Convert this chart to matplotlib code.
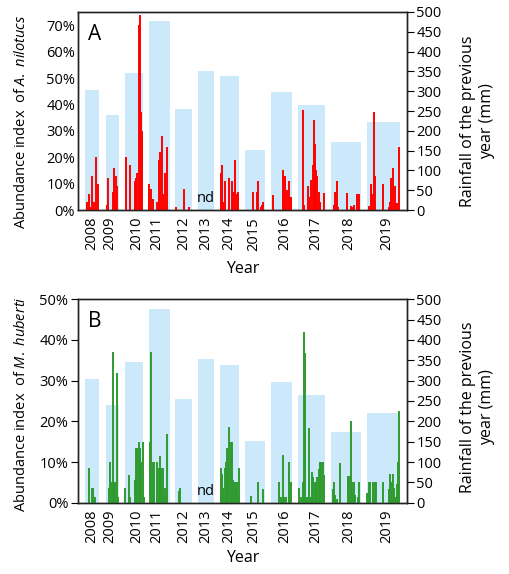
import matplotlib
matplotlib.use('Agg')
import matplotlib.pyplot as plt
from matplotlib.ticker import FuncFormatter, MultipleLocator

plt.rcParams['font.family'] = ['Open Sans', 'DejaVu Sans']
plt.rcParams['mathtext.fontset'] = 'custom'
plt.rcParams['mathtext.rm'] = 'Open Sans'
plt.rcParams['mathtext.it'] = 'Open Sans:italic'

# sampling years and rainfall of the previous year (mm)
years = ['2008', '2009', '2010', '2011', '2012', '2013', '2014', '2015', '2016', '2017', '2018', '2019']
rainfall = [303, 240, 345, 477, 254, 352, 338, 151, 297, 264, 173, 221]
# span of each sampling year on the sampling axis (start, end)
year_start = [7, 27.7, 47.3, 71, 97.5, 120, 142.3, 167.3, 193, 220.3, 253.3, 289.3]
year_end = [21, 41, 65.3, 91.7, 114, 136, 161.3, 187, 214, 247, 283, 322]

# A. nilotucs abundance index (%) at each sample position
a_pos = [9.3, 10.7, 12, 14, 16, 18, 20,
         28.7, 30, 34.7, 36, 37.3, 38, 39.3,
         48, 48.3, 51.7, 56.7, 58, 59.3, 60.7, 61.7, 62.7, 63.3, 64,
         71.3, 72.7, 75.3, 78.7, 81.3, 82, 84, 85.3, 86.7, 88, 89.3,
         98, 106, 111.3,
         142.7, 144, 145.3, 147.3, 150.7, 154, 155.3, 156.7, 158.7, 160,
         175.3, 178.7, 180, 183, 184, 185.3,
         194.7, 204.7, 206, 207.3, 208.7, 210.7, 212, 213.3,
         224.7, 226, 230, 231.3, 233.3, 234.7, 236, 237, 238, 239.3, 240.7, 242, 246,
         256, 257.3, 258.7, 260, 268.7, 272.7, 274, 276, 279.3, 280.7,
         290.7, 292.7, 294, 296, 297.3, 304.7, 310.7, 312, 313.3, 315.3, 316.7, 318, 319.3, 321.3]
a_val = [3, 6, 1, 13, 3, 20, 10,
         2, 12, 7, 16, 3, 13, 9,
         1, 20, 17, 11, 12, 14, 70, 74, 37, 5, 30,
         10, 8, 4, 3, 19, 22, 28, 6, 14, 1, 24,
         1, 8, 1,
         14, 17, 3, 11, 12, 11, 7, 19, 6, 7,
         7, 7, 11, 1, 2, 3,
         5.8, 15, 13, 13, 7.5, 11, 4.5, 5,
         38, 2, 9, 5, 11.5, 17, 34, 25, 15, 13, 7, 3, 6.5,
         2, 7, 11, 1, 6.5, 1.5, 1, 2, 6, 6,
         1.5, 10, 6, 37, 13, 10, 1, 3, 12, 16, 9, 2.5, 2.5, 24]

# M. huberti abundance index (%)
b_pos = [10.7, 14, 15.3, 17.3,
         30.7, 32, 34, 34.7, 36, 37.3, 39.3, 40,
         47.3, 50.7, 52, 56.7, 58, 59.3, 60.7, 62, 63.3, 64.7, 66,
         72, 73.3, 74.7, 76, 79.3, 80.7, 82, 83.3, 84.7, 86, 87.3, 89.3,
         100.7, 102,
         142.7, 144, 145.3, 146.7, 148, 148.7, 150, 151.3, 152.7, 154, 155.3, 156.7, 158, 159.3, 160.7,
         173.3, 180, 185.3,
         201.3, 202.7, 205.3, 206.7, 208, 210.7, 211.3, 212.7,
         221.3, 222.7, 224.7, 226, 227.3, 228.7, 231.3, 232.7, 234, 235.3, 236.7, 238, 239.3, 240.7, 242, 243.3, 244.7, 246,
         254.7, 256, 257.3, 259.3, 262, 270, 271.3, 272.7, 274, 276, 277.3, 280, 281.3,
         289.3, 290.7, 292, 295.3, 296.7, 298, 305.3, 310.7, 312, 313.3, 314.7, 316, 317.3, 318.7, 320, 321.3]
b_val = [8.5, 3.5, 3.5, 1.5,
         3.5, 10, 5, 37, 5, 5, 32, 1.5,
         3.5, 6.8, 1.5, 5.5, 13.5, 13.5, 15, 13.5, 10, 15, 1.5,
         15, 37, 10, 10, 10, 8.5, 11.5, 8.5, 8.5, 1.5, 3.5, 16.8,
         3, 3.5,
         8.5, 7, 3.5, 8.5, 10, 13.5, 11, 18.5, 15, 15, 5.5, 5, 5, 5, 8.5,
         1.6, 5, 3.4,
         5, 1.5, 11.7, 1.5, 1.5, 10, 7, 5,
         3.5, 1.5, 5, 41.9, 36.7, 1.5, 18.4, 1.5, 7.6, 6.4, 5, 5, 6.4, 8.2, 10, 10, 10, 6.8,
         3.3, 5.2, 2, 1, 9.8, 6.6, 6.6, 20, 5.2, 5, 2, 1.5, 5,
         2.5, 5, 5, 5, 5, 5, 5, 3.3, 7, 5, 7, 3.5, 1.5, 4.5, 10, 22.5]

tick_pos = [13.7, 32, 58.7, 78.7, 105.3, 127.7, 150.3, 176, 207, 237.7, 270.3, 308.7]
nd_pos = 127.7

fig = plt.figure(figsize=(5.1, 5.74), dpi=100)

def panel(rect, pos, val, color, ymax, letter, species, left_ticks, lab_y, right_y, year_y):
    ax = fig.add_axes(rect)
    ax2 = ax.twinx()
    widths = [e - s for s, e in zip(year_start, year_end)]
    ax2.bar(year_start, rainfall, width=widths, align='edge', color='#cce9fb', linewidth=0)
    ax.vlines(pos, 0, val, colors=color, linewidth=1.4)
    ax.set_zorder(ax2.get_zorder() + 1)
    ax.patch.set_visible(False)

    ax.set_xlim(0, 328.7)
    ax.set_ylim(0, ymax)
    ax2.set_ylim(0, 500)
    ax.yaxis.set_major_locator(MultipleLocator(10))
    ax.yaxis.set_major_formatter(FuncFormatter(lambda v, p: '{:.0f}%'.format(v)))
    ax2.yaxis.set_major_locator(MultipleLocator(50))

    ax.set_xticks(tick_pos)
    ax.set_xticklabels(years, rotation=90)
    ax.tick_params(axis='x', length=0, labelsize=10.5, pad=5)
    ax.tick_params(axis='y', length=left_ticks, labelsize=10.5, pad=2)
    ax2.tick_params(axis='y', length=5, labelsize=10.5, pad=2)

    for a in (ax, ax2):
        for s in a.spines.values():
            s.set_linewidth(1.0)
            s.set_color('#222222')

    ax.set_ylabel('Abundance index  of $' + species + '$', fontsize=10.5, va='center')
    ax.yaxis.set_label_coords(-0.173, lab_y)
    ax2.set_ylabel('Rainfall of the previous\nyear (mm)', fontsize=11.5, va='center',
                   linespacing=1.25)
    ax2.yaxis.set_label_coords(1.215, right_y)
    ax.set_xlabel('Year', fontsize=11.5, va='center')
    ax.xaxis.set_label_coords(0.5, year_y)
    ax.text(0.03, 0.94, letter, transform=ax.transAxes, fontsize=15, va='top')
    ax.text(nd_pos, ymax * 0.02, 'nd', ha='center', va='bottom', fontsize=10.5)
    return ax

panel([0.1529, 0.6341, 0.6445, 0.3450], a_pos, a_val, '#ff0000', 75, 'A',
      r'A.\ nilotucs', 0, 0.444, 0.447, -0.30)
panel([0.1529, 0.1242, 0.6445, 0.3544], b_pos, b_val, '#2f9a2f', 50, 'B',
      r'M.\ huberti', 5, 0.485, 0.47, -0.27)

fig.savefig('out.png', dpi=100)
